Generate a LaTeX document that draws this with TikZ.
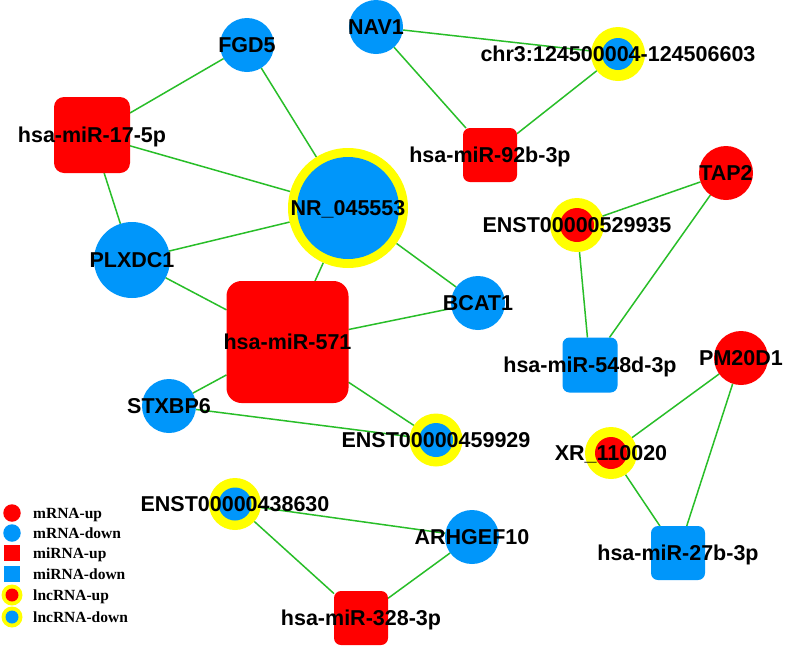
\documentclass[tikz,border=0pt]{standalone}
\usepackage{fontspec}
\setmainfont{Liberation Sans}
\newfontfamily\legfont{Liberation Serif}
\definecolor{nblue}{RGB}{0,150,250}
\definecolor{nred}{RGB}{255,0,0}
\definecolor{nyel}{RGB}{255,255,0}
\definecolor{egreen}{RGB}{40,190,40}
\pgfdeclarelayer{bg}
\pgfsetlayers{bg,main}
\begin{document}
\begin{tikzpicture}[x=1pt,y=-1pt,
  lab/.style={font=\bfseries\fontsize{21.5}{24}\selectfont, inner sep=0pt, text height=15.4pt, text depth=0pt},
  ball/.style={circle, minimum size=#1, inner sep=0pt, outer sep=0pt},
  box/.style n args={2}{rectangle, minimum size=#1, rounded corners=#2, inner sep=0pt, outer sep=0pt},
  ring/.style n args={3}{circle, minimum size=#1, inner sep=0pt, outer sep=0pt, fill=nyel,
     path picture={\fill[#3] (path picture bounding box.center) circle (#2);}},
  link/.style={draw=egreen, line width=1.5pt},
  leg/.style={font=\legfont\bfseries\fontsize{15.5}{18}\selectfont, inner sep=0pt, anchor=base west}
]
\begin{pgfonlayer}{bg}
\fill[white] (0,0) rectangle (785,646);
\end{pgfonlayer}
\useasboundingbox (0,0) rectangle (785,646);

% mRNA-down
\node[ball=54pt, fill=nblue] (fgd5) at (247,45) {};
\node[ball=54pt, fill=nblue] (nav1) at (376,27) {};
\node[ball=54pt, fill=nblue] (bcat) at (478,303) {};
\node[ball=54pt, fill=nblue] (stx) at (169,406) {};
\node[ball=54pt, fill=nblue] (arh) at (472,537) {};
\node[ball=76pt, fill=nblue] (plx) at (132,260) {};
% mRNA-up
\node[ball=54pt, fill=nred] (tap2) at (726,173) {};
\node[ball=54pt, fill=nred] (pm20) at (741,358) {};
% miRNA-up
\node[box={76pt}{10pt}, fill=nred] (mir17) at (92,135) {};
\node[box={54pt}{7pt}, fill=nred] (mir92) at (490,155) {};
\node[box={122pt}{15pt}, fill=nred] (mir571) at (287.5,342) {};
\node[box={54pt}{7pt}, fill=nred] (mir328) at (361,618) {};
% miRNA-down
\node[box={55pt}{7pt}, fill=nblue] (mir548) at (590,365) {};
\node[box={54pt}{7pt}, fill=nblue] (mir27) at (678,553) {};
% lncRNA-down
\node[ring={120pt}{51pt}{nblue}] (nr) at (348,208) {};
\node[ring={54pt}{16pt}{nblue}] (chr3) at (618,54) {};
\node[ring={53pt}{17pt}{nblue}] (e459) at (436,440) {};
\node[ring={52pt}{16.5pt}{nblue}] (e438) at (235,504) {};
% lncRNA-up
\node[ring={54pt}{17pt}{nred}] (e529) at (577,225) {};
\node[ring={52pt}{16pt}{nred}] (xr) at (611,453) {};

\begin{pgfonlayer}{bg}
\draw[link] (fgd5) -- (mir17);
\draw[link] (fgd5) -- (nr);
\draw[link] (mir17) -- (nr);
\draw[link] (mir17) -- (plx);
\draw[link] (plx) -- (nr);
\draw[link] (plx) -- (mir571);
\draw[link] (nr) -- (mir571);
\draw[link] (nr) -- (bcat);
\draw[link] (mir571) -- (bcat);
\draw[link] (mir571) -- (stx);
\draw[link] (mir571) -- (e459);
\draw[link] (stx) -- (e459);
\draw[link] (nav1) -- (chr3);
\draw[link] (nav1) -- (mir92);
\draw[link] (mir92) -- (chr3);
\draw[link] (tap2) -- (e529);
\draw[link] (tap2) -- (mir548);
\draw[link] (e529) -- (mir548);
\draw[link] (pm20) -- (xr);
\draw[link] (pm20) -- (mir27);
\draw[link] (xr) -- (mir27);
\draw[link] (e438) -- (arh);
\draw[link] (e438) -- (mir328);
\draw[link] (arh) -- (mir328);
\end{pgfonlayer}

% labels
\node[lab] (tfgd5) at (fgd5) {FGD5};
\node[lab] (tnav1) at (nav1) {NAV1};
\node[lab] (tbcat) at (bcat) {BCAT1};
\node[lab] (tstx) at (stx) {STXBP6};
\node[lab] (tarh) at (arh) {ARHGEF10};
\node[lab] (tplx) at (plx) {PLXDC1};
\node[lab] (ttap2) at (tap2) {TAP2};
\node[lab] (tpm20) at (pm20) {PM20D1};
\node[lab] (tmir17) at (mir17) {hsa-miR-17-5p};
\node[lab] (tmir92) at (mir92) {hsa-miR-92b-3p};
\node[lab] (tmir571) at (mir571) {hsa-miR-571};
\node[lab] (tmir328) at (mir328) {hsa-miR-328-3p};
\node[lab] (tmir548) at (mir548) {hsa-miR-548d-3p};
\node[lab] (tmir27) at (mir27) {hsa-miR-27b-3p};
\node[lab] (tnr) at (nr) {NR\_045553};
\node[lab] (tchr3) at (chr3) {chr3:124500004-124506603};
\node[lab] (te459) at (e459) {ENST00000459929};
\node[lab] (te438) at (e438) {ENST00000438630};
\node[lab] (te529) at (e529) {ENST00000529935};
\node[lab] (txr) at (xr) {XR\_110020};

% legend
\node[ball=17.5pt, fill=nred] (l1) at (12,513) {};
\node[ball=17.5pt, fill=nblue] (l2) at (12,533) {};
\node[box={16pt}{0pt}, fill=nred] (l3) at (12,553) {};
\node[box={16pt}{0pt}, fill=nblue] (l4) at (12,574) {};
\node[ring={21pt}{6.5pt}{nred}] (l5) at (12,595) {};
\node[ring={21pt}{6.5pt}{nblue}] (l6) at (12,617) {};
\node[leg] (lt1) at (33,518) {mRNA-up};
\node[leg] (lt2) at (33,538) {mRNA-down};
\node[leg] (lt3) at (33,558) {miRNA-up};
\node[leg] (lt4) at (33,579) {miRNA-down};
\node[leg] (lt5) at (33,600) {lncRNA-up};
\node[leg] (lt6) at (33,622) {lncRNA-down};
\end{tikzpicture}
\end{document}
